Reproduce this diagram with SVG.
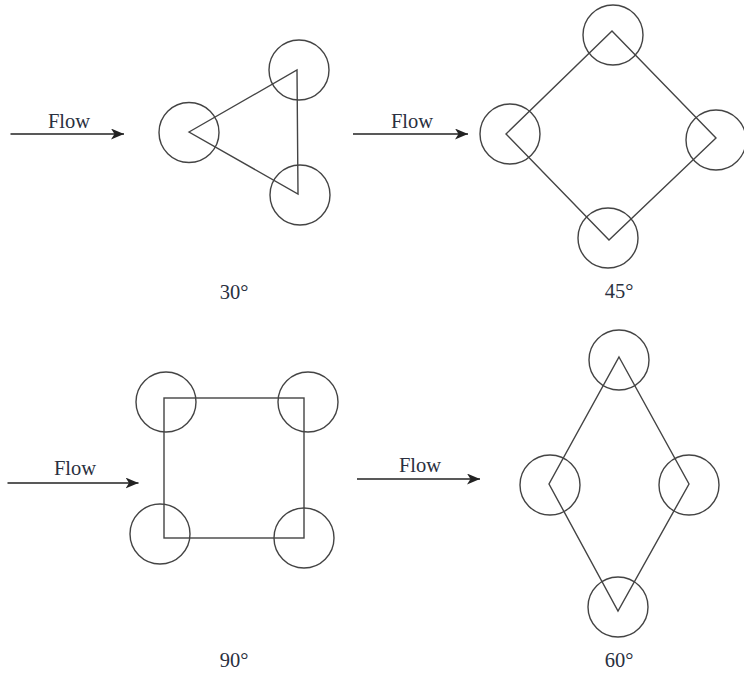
<svg xmlns="http://www.w3.org/2000/svg" width="744" height="673" viewBox="0 0 744 673">
<style>
.s{fill:none;stroke:#444;stroke-width:1.4}
.a{fill:none;stroke:#222;stroke-width:1.4;marker-end:url(#h)}
text{font-family:"Liberation Serif",serif;font-size:20.5px;fill:#2a3040;text-anchor:middle}
</style>
<defs><marker id="h" markerUnits="userSpaceOnUse" markerWidth="14" markerHeight="12" refX="13" refY="5.5" orient="auto"><path d="M0 0L13 5.5L0 11L3.5 5.5Z" fill="#222"/></marker></defs>
<rect width="744" height="673" fill="#fff"/>
<g id="connectors">
<line class="a" x1="10.500" y1="134" x2="124" y2="134"/>
<line class="a" x1="353" y1="134" x2="468" y2="134"/>
<line class="a" x1="7.500" y1="483" x2="138.500" y2="483"/>
<line class="a" x1="357" y1="479" x2="480" y2="479"/>
</g>
<g id="flow-labels">
<text x="69" y="127.500">Flow</text><text x="412" y="127.500">Flow</text><text x="75" y="475">Flow</text><text x="420" y="472">Flow</text>
</g>
<g id="triangle-30">
<path class="s" d="M189 132L297 70L298 194Z"/>
<circle class="s" cx="189" cy="132.500" r="30"/><circle class="s" cx="299" cy="70" r="30"/><circle class="s" cx="300" cy="195" r="30"/>
<text x="234" y="299">30°</text>
</g>
<g id="diamond-45">
<path class="s" d="M506 134L612 31L716 138L609 240Z"/>
<circle class="s" cx="510" cy="134" r="30"/><circle class="s" cx="613" cy="35" r="30"/><circle class="s" cx="716" cy="140" r="30"/><circle class="s" cx="608" cy="238" r="30"/>
<text x="619" y="298">45°</text>
</g>
<g id="square-90">
<rect class="s" x="164" y="398" width="140" height="140"/>
<circle class="s" cx="166" cy="402" r="30"/><circle class="s" cx="308" cy="402" r="30"/><circle class="s" cx="160" cy="534" r="30"/><circle class="s" cx="304" cy="538" r="30"/>
<text x="234" y="667">90°</text>
</g>
<g id="rhombus-60">
<path class="s" d="M619 357L689 484L618 611L549 484Z"/>
<circle class="s" cx="619" cy="360" r="30"/><circle class="s" cx="689" cy="485" r="30"/><circle class="s" cx="618" cy="607" r="30"/><circle class="s" cx="550" cy="485" r="30"/>
<text x="619" y="667">60°</text>
</g>
</svg>
